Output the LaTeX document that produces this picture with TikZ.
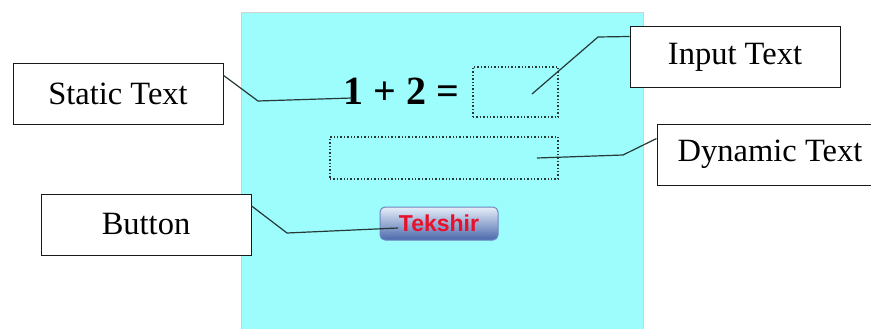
\documentclass[tikz,border=0pt]{standalone}
\usepackage{fontspec}
\setmainfont{Liberation Serif}
\newfontfamily\uisans{Liberation Sans}
\usepackage{tikz}
\usetikzlibrary{positioning,calc}
\definecolor{uicyan}{HTML}{9DFCFC}
\definecolor{uiline}{HTML}{263838}
\definecolor{uired}{HTML}{E8102A}
\definecolor{uibtntop}{HTML}{E6EEF9}
\definecolor{uibtnbot}{HTML}{4A68AC}
\tikzset{
  uilabel/.style={draw=black!90, line width=1pt, fill=white, inner sep=0pt,
    font=\fontsize{32.5}{36}\selectfont, minimum height=61pt, minimum width=210pt},
  uifield/.style={draw=uiline, dotted, line width=1.4pt, inner sep=0pt},
  uibutton/.style={draw=uibtnbot!80, line width=1pt, rounded corners=5pt,
    top color=uibtntop, bottom color=uibtnbot, inner sep=0pt,
    minimum width=118pt, minimum height=33pt, text=uired,
    font=\uisans\bfseries\fontsize{23}{25}\selectfont},
  uileader/.style={draw=uiline, line width=1.2pt}
}

\begin{document}
\begin{tikzpicture}[x=1pt, y=-1pt]
  \useasboundingbox (0,0) rectangle (871,329);
  \fill[white] (0,0) rectangle (871,329);
  % stage
  \fill[uicyan] (241,12) rectangle (643,329);
  \draw[black!18, line width=0.8pt] (241,329) -- (241,12) -- (643,12) -- (643,329);
  % widgets on the stage
  \node[font=\bfseries\fontsize{40}{44}\selectfont, anchor=base west, inner sep=0pt]
    (sum) at (343,105) {1 + 2 =};
  \node[uifield, minimum width=85pt, minimum height=50pt] (inpfield) at (515.5,92) {};
  \node[uifield, minimum width=228pt, minimum height=42pt] (dynfield) at (444,158) {};
  \node[uibutton] (tek) at (439,223.5) {Tekshir};
  % labels
  \node[uilabel] (stat) at (118,94) {Static Text};
  \node[uilabel] (inp) at (735,57) {Input Text};
  \node[uilabel, minimum width=226pt] (dyn) at (770,154.5) {Dynamic Text};
  \node[uilabel] (btn) at (146,224.5) {Button};
  % leaders
  \coordinate (statend) at (352,98);
  \coordinate (inpend) at (532,94);
  \coordinate (dynend) at (537,158);
  \coordinate (tekend) at (398,228);
  \draw[uileader] (stat.10) -- (258,101) -- (statend);
  \draw[uileader] (inp.169) -- (598,37) -- (inpend);
  \draw[uileader] (dyn.172) -- (623,155) -- (dynend);
  \draw[uileader] (btn.10) -- (287,233) -- (tekend);
\end{tikzpicture}
\end{document}
